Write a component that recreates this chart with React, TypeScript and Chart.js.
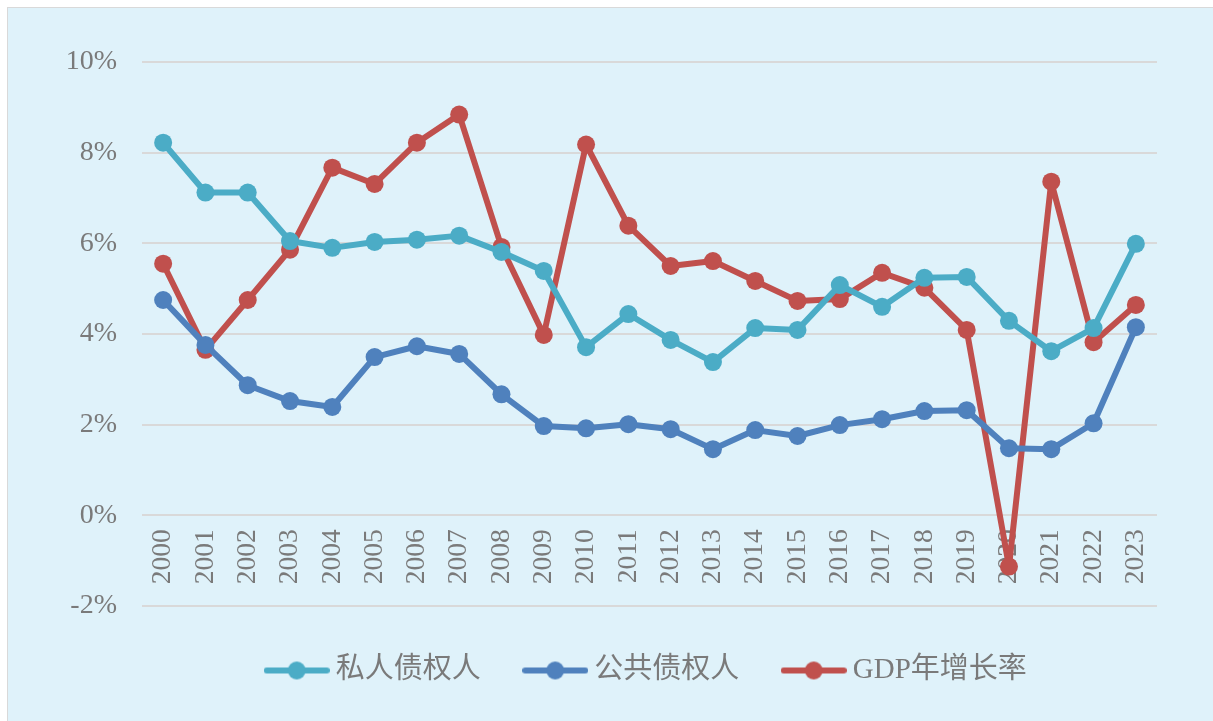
import React, { useEffect, useRef } from "react";
import { Chart, registerables } from "chart.js";

Chart.register(...registerables);

const years = ["2000","2001","2002","2003","2004","2005","2006","2007","2008","2009","2010","2011","2012","2013","2014","2015","2016","2017","2018","2019","2020","2021","2022","2023"];
const privateCreditors = [8.22,7.12,7.12,6.05,5.9,6.03,6.08,6.17,5.81,5.39,3.71,4.44,3.87,3.38,4.13,4.09,5.08,4.6,5.24,5.26,4.29,3.62,4.13,5.99];
const publicCreditors = [4.75,3.76,2.87,2.52,2.39,3.49,3.73,3.56,2.67,1.97,1.92,2.01,1.9,1.46,1.88,1.75,1.99,2.12,2.3,2.32,1.48,1.46,2.03,4.15];
const gdpGrowth = [5.55,3.65,4.75,5.86,7.67,7.31,8.22,8.84,5.92,3.98,8.18,6.39,5.5,5.61,5.17,4.73,4.77,5.35,5.02,4.09,-1.13,7.36,3.82,4.64];
const seriesNames = ["私人债权人", "公共债权人", "GDP年增长率"];
const seriesColors = ["#4bacc6", "#4f81bd", "#c0504d"];

const FONT = '"Liberation Serif", "Times New Roman", "Noto Sans CJK SC", serif';
const TEXT = "#7a7a7a";

function makeLegendIcon(color: string): HTMLCanvasElement {
  const c = document.createElement("canvas");
  c.width = 66;
  c.height = 20;
  const ctx = c.getContext("2d")!;
  ctx.strokeStyle = color;
  ctx.lineWidth = 6;
  ctx.lineCap = "round";
  ctx.beginPath();
  ctx.moveTo(3, 10);
  ctx.lineTo(63, 10);
  ctx.stroke();
  ctx.fillStyle = color;
  ctx.beginPath();
  ctx.arc(33, 10, 9, 0, Math.PI * 2);
  ctx.fill();
  return c;
}

export default function App() {
  const ref = useRef<HTMLCanvasElement>(null);
  useEffect(() => {
    const icons = seriesColors.map(makeLegendIcon);
    const values = [privateCreditors, publicCreditors, gdpGrowth];
    const chart = new Chart(ref.current!, {
      type: "line",
      data: {
        labels: years,
        datasets: values.map((d, i) => ({
          label: seriesNames[i],
          data: d,
          borderColor: seriesColors[i],
          backgroundColor: seriesColors[i],
          borderWidth: 6,
          borderJoinStyle: "round" as const,
          borderCapStyle: "round" as const,
          pointRadius: 9,
          pointHoverRadius: 9,
          pointBorderWidth: 0,
          pointBackgroundColor: seriesColors[i],
          tension: 0,
          fill: false,
        })),
      },
      options: {
        responsive: false,
        animation: false,
        layout: { padding: { top: 54, right: 56, left: 0, bottom: 26 } },
        plugins: {
          tooltip: { enabled: false },
          legend: {
            position: "bottom",
            fullSize: false,
            labels: {
              usePointStyle: true,
              pointStyleWidth: 49,
              padding: 50,
              color: TEXT,
              font: { family: FONT, size: 29 },
              generateLabels: (ch: any) => {
                const items = Chart.defaults.plugins.legend.labels.generateLabels(ch);
                return items.map((it: any, i: number) => ({ ...it, pointStyle: icons[i] }));
              },
            },
          },
        },
        scales: {
          x: {
            position: { y: 0 } as any,
            z: 1,
            offset: true,
            grid: { display: false, drawTicks: false },
            border: { display: false },
            ticks: {
              color: TEXT,
              font: { family: FONT, size: 27.5 },
              minRotation: 90,
              maxRotation: 90,
              padding: 14,
              autoSkip: false,
            },
          },
          y: {
            min: -2,
            max: 10,
            afterFit: (s: any) => { s.width = 134; },
            grid: { color: "#d9d9d9", lineWidth: 2, drawTicks: false },
            border: { display: false },
            ticks: {
              stepSize: 2,
              color: TEXT,
              padding: 25,
              font: { family: FONT, size: 28 },
              callback: (v: any) => v + "%",
            },
          },
        },
      },
    });
    return () => chart.destroy();
  }, []);
  return (
    <div
      style={{
        position: "fixed",
        left: 7,
        top: 7,
        width: 1205,
        height: 713,
        borderTop: "1px solid #d9d9d9",
        borderLeft: "1px solid #d9d9d9",
        background: "#dff2fa",
      }}
    >
      <canvas ref={ref} width={1205} height={713} style={{ display: "block" }} />
    </div>
  );
}
